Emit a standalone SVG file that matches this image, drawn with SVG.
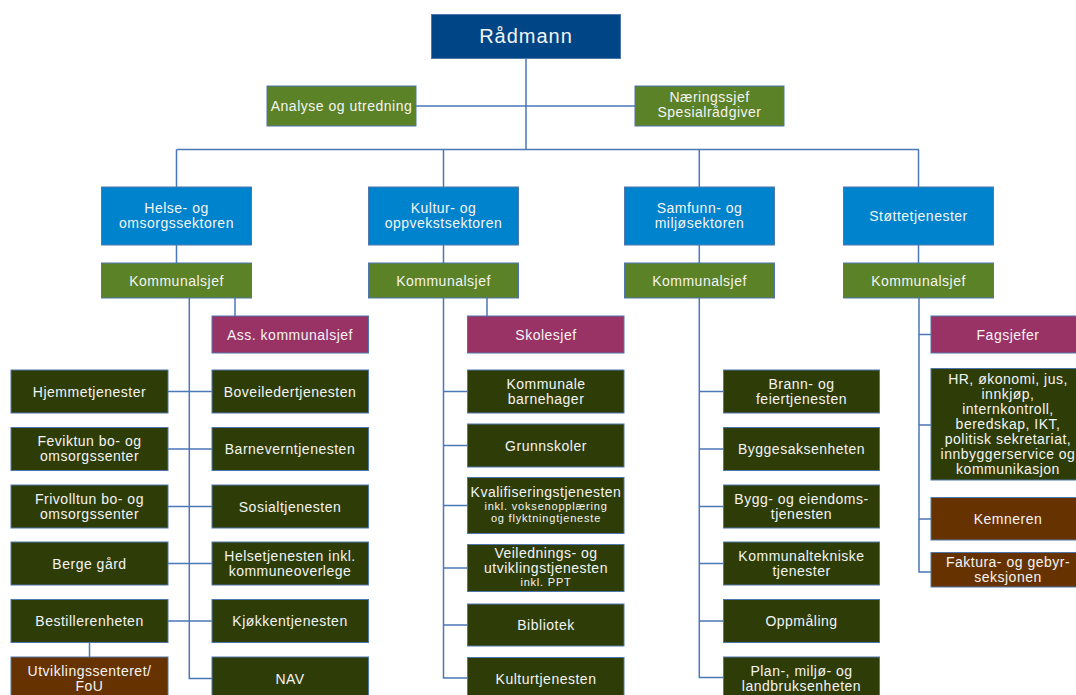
<svg xmlns="http://www.w3.org/2000/svg" width="1076" height="695" viewBox="0 0 1076 695">
<style>
rect{stroke:#4f76ad;stroke-width:1}
.rd{fill:#004586}
.gr{fill:#5b8226}
.se{fill:#0083cd}
.mg{fill:#993366}
.ol{fill:#2e3d08}
.br{fill:#663300}
text{font-family:"Liberation Sans",Arial,sans-serif;font-size:14px;fill:#f4f4f4;text-anchor:middle;letter-spacing:0.5px}
.big{font-size:20px;letter-spacing:1px}
.sm{font-size:11px;letter-spacing:0.8px}
#connectors path{stroke:#4a78b8;stroke-width:1.5;fill:none}
</style>
<g id="connectors">
<path d="M526 58.5V149.5M416 106H635M176.5 149.5H919M176.5 149.5V187M443.5 149.5V187M699.3 149.5V187M918.5 149.5V187"/>
<path d="M176.5 245V263M443.5 245V263M699.3 245V263M918.5 245V263"/>
<path d="M235 298V316M189.3 298V678.5H212M168 391.5H212M168 449H212M168 506.5H212M168 563.5H212M168 621H212M89.5 642.5V657"/>
<path d="M487 298V316M443.5 298V678H467.5M443.5 391.5H467.5M443.5 445.5H467.5M443.5 505.5H467.5M443.5 568H467.5M443.5 625H467.5"/>
<path d="M699.3 298V677.5H723.5M699.3 391.5H723.5M699.3 449H723.5M699.3 506.5H723.5M699.3 563.5H723.5M699.3 621H723.5"/>
<path d="M919 298V572H931M919 334.5H931M919 425H931M919 519H931"/>
</g>
<g id="radmann"><rect class="rd" x="431.5" y="14.5" width="189" height="44"/><text class="big" x="526" y="43">Rådmann</text></g>
<g id="analyse"><rect class="gr" x="267" y="86" width="149" height="40"/><text x="341.5" y="111">Analyse og utredning</text></g>
<g id="naering"><rect class="gr" x="635" y="86" width="149" height="40"/><text x="709.5" y="102">Næringssjef</text><text x="709.5" y="117">Spesialrådgiver</text></g>

<g id="helse"><rect class="se" x="101.5" y="187" width="150" height="58"/><text x="176.5" y="213">Helse- og</text><text x="176.5" y="228">omsorgssektoren</text></g>
<g id="kultur"><rect class="se" x="368.5" y="187" width="150" height="58"/><text x="443.5" y="213">Kultur- og</text><text x="443.5" y="228">oppvekstsektoren</text></g>
<g id="samfunn"><rect class="se" x="624.5" y="187" width="150" height="58"/><text x="699.5" y="213">Samfunn- og</text><text x="699.5" y="228">miljøsektoren</text></g>
<g id="stotte"><rect class="se" x="843.5" y="187" width="150" height="58"/><text x="918.5" y="221">Støttetjenester</text></g>

<g id="ks1"><rect class="gr" x="101.5" y="263" width="150" height="35"/><text x="176.5" y="285.5">Kommunalsjef</text></g>
<g id="ks2"><rect class="gr" x="368.5" y="263" width="150" height="35"/><text x="443.5" y="285.5">Kommunalsjef</text></g>
<g id="ks3"><rect class="gr" x="624.5" y="263" width="150" height="35"/><text x="699.5" y="285.5">Kommunalsjef</text></g>
<g id="ks4"><rect class="gr" x="843.5" y="263" width="150" height="35"/><text x="918.5" y="285.5">Kommunalsjef</text></g>

<g id="ass"><rect class="mg" x="212" y="316" width="156.5" height="37"/><text x="290" y="339.5">Ass. kommunalsjef</text></g>
<g id="skolesjef"><rect class="mg" x="467.5" y="316" width="156.5" height="37"/><text x="546" y="339.5">Skolesjef</text></g>
<g id="fagsjefer"><rect class="mg" x="931" y="316" width="156" height="37"/><text x="1008" y="339.5">Fagsjefer</text></g>

<g id="hjemme"><rect class="ol" x="11" y="370" width="157" height="43"/><text x="89.5" y="396.5">Hjemmetjenester</text></g>
<g id="feviktun"><rect class="ol" x="11" y="427.5" width="157" height="43"/><text x="89.5" y="446">Feviktun bo- og</text><text x="89.5" y="461">omsorgssenter</text></g>
<g id="frivolltun"><rect class="ol" x="11" y="485" width="157" height="43"/><text x="89.5" y="503.5">Frivolltun bo- og</text><text x="89.5" y="518.5">omsorgssenter</text></g>
<g id="berge"><rect class="ol" x="11" y="542" width="157" height="43"/><text x="89.5" y="568.5">Berge gård</text></g>
<g id="bestiller"><rect class="ol" x="11" y="599.5" width="157" height="43"/><text x="89.5" y="626">Bestillerenheten</text></g>
<g id="utvikling"><rect class="br" x="11" y="657" width="157" height="43"/><text x="89.5" y="675.5">Utviklingssenteret/</text><text x="89.5" y="690.5">FoU</text></g>

<g id="boveileder"><rect class="ol" x="212" y="370" width="156.5" height="43"/><text x="290" y="396.5">Boveiledertjenesten</text></g>
<g id="barnevern"><rect class="ol" x="212" y="427.5" width="156.5" height="43"/><text x="290" y="454">Barneverntjenesten</text></g>
<g id="sosial"><rect class="ol" x="212" y="485" width="156.5" height="43"/><text x="290" y="511.5">Sosialtjenesten</text></g>
<g id="helsetj"><rect class="ol" x="212" y="542" width="156.5" height="43"/><text x="290" y="560.5">Helsetjenesten inkl.</text><text x="290" y="575.5">kommuneoverlege</text></g>
<g id="kjokken"><rect class="ol" x="212" y="599.5" width="156.5" height="43"/><text x="290" y="626">Kjøkkentjenesten</text></g>
<g id="nav"><rect class="ol" x="212" y="657" width="156.5" height="43"/><text x="290" y="683.5">NAV</text></g>

<g id="barnehager"><rect class="ol" x="467.5" y="370" width="156.5" height="43"/><text x="546" y="388.5">Kommunale</text><text x="546" y="403.5">barnehager</text></g>
<g id="grunnskoler"><rect class="ol" x="467.5" y="424" width="156.5" height="43"/><text x="546" y="450.5">Grunnskoler</text></g>
<g id="kvalifisering"><rect class="ol" x="467.5" y="477.5" width="156.5" height="56"/><text x="546" y="496.5">Kvalifiseringstjenesten</text><text class="sm" x="546" y="510">inkl. voksenopplæring</text><text class="sm" x="546" y="522">og flyktningtjeneste</text></g>
<g id="veiledning"><rect class="ol" x="467.5" y="544.5" width="156.5" height="47"/><text x="546" y="557.5">Veilednings- og</text><text x="546" y="572.5">utviklingstjenesten</text><text class="sm" x="546" y="586">inkl. PPT</text></g>
<g id="bibliotek"><rect class="ol" x="467.5" y="604" width="156.5" height="42"/><text x="546" y="630">Bibliotek</text></g>
<g id="kulturtj"><rect class="ol" x="467.5" y="657.5" width="156.5" height="43"/><text x="546" y="684">Kulturtjenesten</text></g>

<g id="brann"><rect class="ol" x="723.5" y="370" width="156" height="43"/><text x="801.5" y="388.5">Brann- og</text><text x="801.5" y="403.5">feiertjenesten</text></g>
<g id="byggesak"><rect class="ol" x="723.5" y="427.5" width="156" height="43"/><text x="801.5" y="454">Byggesaksenheten</text></g>
<g id="eiendom"><rect class="ol" x="723.5" y="485" width="156" height="43"/><text x="801.5" y="503.5">Bygg- og eiendoms-</text><text x="801.5" y="518.5">tjenesten</text></g>
<g id="teknisk"><rect class="ol" x="723.5" y="542" width="156" height="43"/><text x="801.5" y="560.5">Kommunaltekniske</text><text x="801.5" y="575.5">tjenester</text></g>
<g id="oppmaling"><rect class="ol" x="723.5" y="599.5" width="156" height="43"/><text x="801.5" y="626">Oppmåling</text></g>
<g id="plan"><rect class="ol" x="723.5" y="657" width="156" height="43"/><text x="801.5" y="675.5">Plan-, miljø- og</text><text x="801.5" y="690.5">landbruksenheten</text></g>

<g id="hr"><rect class="ol" x="931" y="368.5" width="156" height="111.5"/><text x="1008" y="384">HR, økonomi, jus,</text><text x="1008" y="399">innkjøp,</text><text x="1008" y="414">internkontroll,</text><text x="1008" y="429">beredskap, IKT,</text><text x="1008" y="444">politisk sekretariat,</text><text x="1008" y="459">innbyggerservice og</text><text x="1008" y="474">kommunikasjon</text></g>
<g id="kemneren"><rect class="br" x="931" y="497.5" width="156" height="42.5"/><text x="1008" y="524">Kemneren</text></g>
<g id="faktura"><rect class="br" x="931" y="552.5" width="156" height="34.5"/><text x="1008" y="567">Faktura- og gebyr-</text><text x="1008" y="582">seksjonen</text></g>
</svg>
